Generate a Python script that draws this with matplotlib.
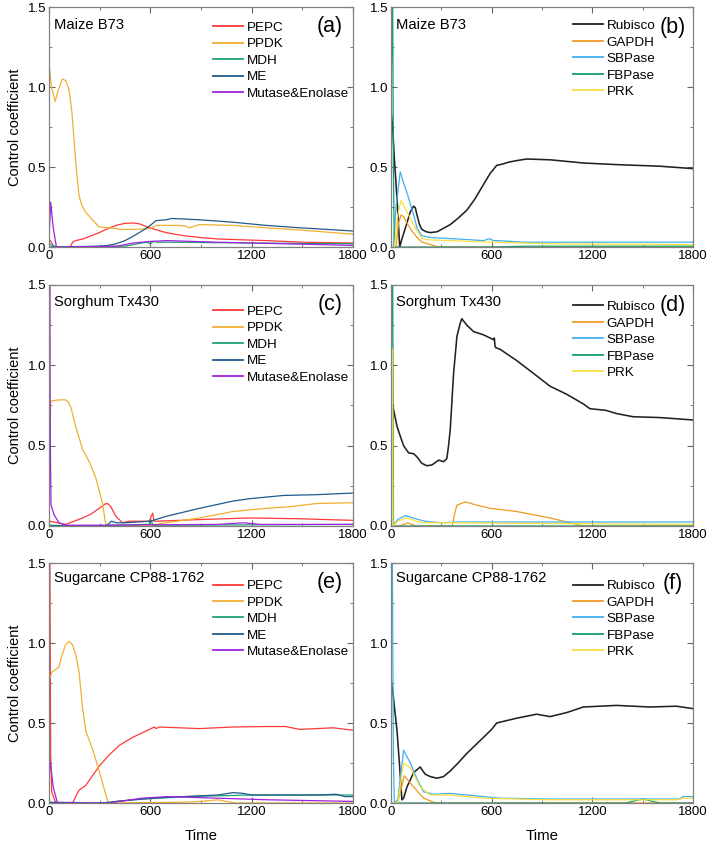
import numpy as np
import matplotlib.pyplot as plt
from matplotlib.ticker import MultipleLocator

plt.rcParams['font.family'] = ['Liberation Sans', 'DejaVu Sans']

# colours
C_PEPC = '#ff3838'
C_PPDK = '#f0b030'
C_MDH = '#1fa070'
C_ME = '#1f5a8a'
C_MUT = '#a020e0'
C_RUB = '#222222'
C_GAP = '#f09a20'
C_SBP = '#40b0f0'
C_FBP = '#10a070'
C_PRK = '#f8e040'

# ---- panel (a) Maize B73, C4 enzymes
a_t_pepc = [0, 8, 30, 125, 140, 158, 200, 250, 297, 350, 396, 450, 495, 535, 594, 693, 800, 891, 1000, 1287, 1500, 1800]
a_pepc = [0.05, 0.04, 0.0, 0.0, 0.03, 0.04, 0.05, 0.07, 0.09, 0.115, 0.135, 0.148, 0.15, 0.145, 0.12, 0.09, 0.07, 0.06, 0.05, 0.04, 0.03, 0.025]
a_t_ppdk = [0, 15, 36, 55, 79, 100, 119, 135, 150, 162, 178, 195, 215, 257, 297, 356, 396, 420, 495, 600, 634, 700, 772, 810, 832, 860, 891, 1089, 1287, 1500, 1800]
a_ppdk = [1.14, 1.0, 0.91, 0.98, 1.05, 1.04, 0.98, 0.85, 0.65, 0.48, 0.32, 0.26, 0.22, 0.17, 0.125, 0.12, 0.115, 0.11, 0.11, 0.115, 0.135, 0.135, 0.135, 0.13, 0.12, 0.13, 0.14, 0.135, 0.12, 0.105, 0.08]
a_t_mdh = [0, 20, 50, 450, 550, 580, 600, 620, 640, 700, 1200, 1800]
a_mdh = [0.02, 0.01, 0.0, 0.005, 0.025, 0.03, 0.02, 0.035, 0.03, 0.03, 0.025, 0.02]
a_t_me = [0, 300, 350, 396, 450, 495, 550, 594, 634, 693, 723, 800, 891, 1000, 1089, 1287, 1485, 1800]
a_me = [0.0, 0.005, 0.01, 0.02, 0.04, 0.065, 0.1, 0.13, 0.165, 0.17, 0.178, 0.175, 0.17, 0.162, 0.155, 0.135, 0.12, 0.10]
a_t_mut = [0, 10, 25, 44, 400, 500, 600, 700, 1000, 1400, 1800]
a_mut = [0.05, 0.28, 0.12, 0.0, 0.005, 0.025, 0.035, 0.04, 0.03, 0.02, 0.01]

# ---- panel (b) Maize B73, Calvin cycle enzymes
b_t_rub = [0, 10, 20, 36, 52, 65, 80, 95, 115, 135, 145, 155, 170, 184, 210, 234, 274, 310, 353, 400, 452, 500, 551, 591, 630, 670, 700, 749, 809, 948, 1146, 1344, 1600, 1800]
b_rub = [0.85, 0.75, 0.55, 0.3, 0.0, 0.05, 0.1, 0.15, 0.22, 0.255, 0.245, 0.2, 0.14, 0.11, 0.095, 0.09, 0.095, 0.115, 0.14, 0.18, 0.23, 0.3, 0.39, 0.46, 0.51, 0.52, 0.53, 0.54, 0.55, 0.545, 0.525, 0.515, 0.505, 0.49]
b_t_gap = [0, 30, 45, 60, 75, 95, 125, 155, 184, 220, 254, 280, 1800]
b_gap = [0, 0.0, 0.15, 0.2, 0.19, 0.15, 0.1, 0.06, 0.03, 0.02, 0.01, 0.0, 0.0]
b_t_sbp = [0, 15, 30, 55, 75, 95, 115, 135, 155, 184, 234, 300, 400, 551, 580, 591, 610, 630, 800, 948, 1200, 1800]
b_sbp = [0, 0.0, 0.25, 0.47, 0.4, 0.34, 0.27, 0.2, 0.12, 0.07, 0.06, 0.055, 0.05, 0.04, 0.05, 0.05, 0.04, 0.04, 0.03, 0.03, 0.03, 0.03]
b_t_fbp = [0, 5, 10, 14, 20, 600, 800, 1800]
b_fbp = [0.9, 1.3, 1.6, 0.5, 0.0, 0.0, 0.005, 0.005]
b_t_prk = [0, 20, 40, 60, 95, 125, 155, 184, 220, 353, 591, 948, 1800]
b_prk = [0, 0, 0.2, 0.29, 0.22, 0.16, 0.1, 0.055, 0.045, 0.04, 0.03, 0.02, 0.015]

# ---- panel (c) Sorghum Tx430, C4 enzymes
c_t_pepc = [0, 30, 99, 150, 198, 250, 297, 337, 350, 366, 396, 436, 475, 520, 594, 605, 614, 622, 640, 891, 1188, 1485, 1800]
c_pepc = [0.03, 0.025, 0.01, 0.03, 0.05, 0.075, 0.11, 0.14, 0.138, 0.12, 0.06, 0.02, 0.03, 0.03, 0.03, 0.06, 0.08, 0.03, 0.03, 0.04, 0.05, 0.045, 0.035]
c_t_ppdk = [0, 5, 10, 20, 60, 99, 115, 129, 158, 198, 238, 277, 317, 333, 341, 600, 693, 891, 1089, 1287, 1426, 1584, 1800]
c_ppdk = [0.0, 0.5, 0.77, 0.78, 0.785, 0.785, 0.77, 0.74, 0.62, 0.48, 0.4, 0.3, 0.14, 0.03, 0.0, 0.005, 0.02, 0.05, 0.09, 0.11, 0.12, 0.14, 0.145]
c_t_mdh = [0, 200, 590, 604, 615, 700, 1800]
c_mdh = [0.005, 0.0, 0.01, 0.04, 0.005, 0.005, 0.01]
c_t_me = [0, 340, 370, 400, 450, 600, 693, 891, 1089, 1188, 1386, 1584, 1800]
c_me = [0.0, 0.0, 0.03, 0.02, 0.02, 0.03, 0.06, 0.11, 0.155, 0.17, 0.19, 0.195, 0.205]
c_t_mut = [0, 4, 8, 12, 30, 59, 99, 300, 1000, 1150, 1250, 1800]
c_mut = [0.2, 1.6, 0.5, 0.13, 0.07, 0.02, 0.005, 0.005, 0.01, 0.02, 0.01, 0.01]

# ---- panel (d) Sorghum Tx430, Calvin cycle enzymes
d_t_rub = [0, 5, 16, 36, 55, 75, 105, 135, 155, 184, 214, 244, 284, 313, 333, 343, 353, 373, 393, 412, 422, 452, 492, 551, 611, 616, 620, 624, 650, 749, 849, 948, 1047, 1146, 1186, 1280, 1344, 1443, 1600, 1800]
d_rub = [0.8, 0.78, 0.72, 0.62, 0.56, 0.5, 0.455, 0.45, 0.43, 0.39, 0.375, 0.38, 0.41, 0.40, 0.42, 0.5, 0.6, 0.95, 1.18, 1.26, 1.29, 1.25, 1.21, 1.19, 1.16, 1.17, 1.12, 1.11, 1.10, 1.03, 0.95, 0.87, 0.82, 0.76, 0.73, 0.72, 0.70, 0.68, 0.675, 0.66]
d_t_gap = [0, 50, 100, 150, 200, 365, 380, 393, 442, 511, 591, 749, 948, 1146, 1800]
d_gap = [0, 0, 0.02, 0.0, 0.0, 0.0, 0.08, 0.13, 0.15, 0.13, 0.11, 0.09, 0.05, 0.0, 0.0]
d_t_sbp = [0, 10, 40, 85, 130, 200, 300, 400, 600, 1000, 1800]
d_sbp = [0, 0.0, 0.04, 0.065, 0.05, 0.03, 0.02, 0.025, 0.025, 0.025, 0.025]
d_t_fbp = [0, 5, 10, 15, 1800]
d_fbp = [0.5, 1.6, 1.6, 0.0, 0.0]
d_t_prk = [0, 8, 12, 40, 95, 150, 200, 400, 1000, 1800]
d_prk = [1.1, 1.1, 0.0, 0.03, 0.05, 0.03, 0.02, 0.02, 0.015, 0.01]

# ---- panel (e) Sugarcane CP88-1762, C4 enzymes
e_t_pepc = [0, 5, 10, 16, 40, 139, 178, 218, 257, 297, 356, 416, 495, 594, 624, 634, 653, 891, 1089, 1287, 1400, 1485, 1683, 1800]
e_pepc = [0.5, 1.6, 0.3, 0.07, 0.0, 0.0, 0.08, 0.11, 0.17, 0.23, 0.3, 0.36, 0.41, 0.46, 0.475, 0.465, 0.475, 0.465, 0.475, 0.478, 0.478, 0.46, 0.47, 0.455]
e_t_ppdk = [0, 20, 59, 79, 99, 119, 139, 160, 178, 198, 218, 257, 297, 337, 352, 800, 900, 1000, 1100, 1800]
e_ppdk = [0.77, 0.82, 0.85, 0.93, 0.99, 1.01, 0.99, 0.92, 0.82, 0.6, 0.45, 0.34, 0.2, 0.05, 0.0, 0.005, 0.01, 0.02, 0.0, 0.0]
e_t_mdh = [0, 300, 500, 800, 1200, 1800]
e_mdh = [0, 0.0, 0.02, 0.04, 0.05, 0.05]
e_t_me = [0, 350, 400, 600, 800, 1000, 1089, 1150, 1200, 1600, 1700, 1750, 1800]
e_me = [0.005, 0.0, 0.01, 0.03, 0.04, 0.05, 0.065, 0.06, 0.05, 0.05, 0.055, 0.04, 0.04]
e_t_mut = [0, 5, 25, 50, 350, 550, 700, 1000, 1300, 1800]
e_mut = [0.1, 0.28, 0.1, 0.0, 0.0, 0.03, 0.04, 0.03, 0.02, 0.01]

# ---- panel (f) Sugarcane CP88-1762, Calvin cycle enzymes
f_t_rub = [0, 10, 36, 50, 65, 75, 95, 135, 174, 190, 204, 234, 274, 313, 353, 400, 452, 551, 600, 630, 749, 868, 948, 1047, 1146, 1344, 1542, 1701, 1800]
f_rub = [0.78, 0.7, 0.45, 0.25, 0.02, 0.03, 0.1, 0.19, 0.225, 0.2, 0.18, 0.165, 0.155, 0.165, 0.2, 0.25, 0.31, 0.41, 0.46, 0.5, 0.53, 0.555, 0.54, 0.565, 0.6, 0.61, 0.6, 0.605, 0.59]
f_t_gap = [0, 40, 79, 135, 194, 254, 275, 1800]
f_gap = [0, 0, 0.17, 0.1, 0.03, 0.005, 0.0, 0.0]
f_t_sbp = [0, 4, 8, 14, 20, 40, 75, 115, 155, 194, 254, 353, 551, 650, 948, 1344, 1720, 1740, 1800]
f_sbp = [0.6, 1.6, 1.6, 0.3, 0.0, 0.02, 0.33, 0.25, 0.15, 0.07, 0.055, 0.06, 0.04, 0.03, 0.025, 0.025, 0.025, 0.04, 0.04]
f_t_fbp = [0, 1400, 1500, 1600, 1800]
f_fbp = [0, 0, 0.025, 0.0, 0.0]
f_t_prk = [0, 40, 75, 115, 174, 234, 353, 551, 948, 1700, 1750, 1800]
f_prk = [0, 0, 0.25, 0.22, 0.1, 0.05, 0.05, 0.03, 0.02, 0.02, 0.03, 0.03]

c4_names = ['PEPC', 'PPDK', 'MDH', 'ME', 'Mutase&Enolase']
c4_colors = [C_PEPC, C_PPDK, C_MDH, C_ME, C_MUT]
cc_names = ['Rubisco', 'GAPDH', 'SBPase', 'FBPase', 'PRK']
cc_colors = [C_RUB, C_GAP, C_SBP, C_FBP, C_PRK]


def draw_panel(ax, series, names, colors, title, tag, leg_xy, title_y, tag_xy):
    for (t, y), name, col in zip(series, names, colors):
        lw = 1.15 if name == 'Rubisco' else 0.9
        ax.plot(t, y, color=col, lw=lw, label=name)
    ax.set_xlim(0, 1800)
    ax.set_ylim(0, 1.5)
    ax.xaxis.set_major_locator(MultipleLocator(600))
    ax.xaxis.set_minor_locator(MultipleLocator(300))
    ax.yaxis.set_major_locator(MultipleLocator(0.5))
    ax.yaxis.set_minor_locator(MultipleLocator(0.25))
    ax.yaxis.set_major_formatter(plt.FuncFormatter(lambda v, p: '%.1f' % v))
    ax.tick_params(which='both', direction='in', top=True, right=True,
                   color='#666666', labelsize=9.5, pad=2)
    ax.tick_params(which='major', length=4)
    ax.tick_params(which='minor', length=2.5)
    for s in ax.spines.values():
        s.set_color('#808080')
        s.set_linewidth(0.9)
    ax.text(0.018, title_y, title, transform=ax.transAxes, fontsize=10.6,
            ha='left', va='center')
    ax.text(tag_xy[0], tag_xy[1], tag, transform=ax.transAxes, fontsize=15.5,
            ha='center', va='center')
    leg = ax.legend(loc='upper left', bbox_to_anchor=leg_xy, frameon=False,
                    fontsize=9.7, handlelength=2.2, handletextpad=0.3,
                    labelspacing=0.3, borderpad=0, borderaxespad=0)
    for h in leg.get_lines():
        h.set_linewidth(1.3)


fig = plt.figure(figsize=(7.09, 8.43), dpi=100)
W, H = 709, 843
lefts = [49, 391]
widths = [304, 302]
tops = [7, 285, 563]
bottoms = [247, 526, 803]

panels = [
    ([(a_t_pepc, a_pepc), (a_t_ppdk, a_ppdk), (a_t_mdh, a_mdh), (a_t_me, a_me), (a_t_mut, a_mut)],
     'Maize B73', '(a)', 0, 0, 0.94, 0.925),
    ([(b_t_rub, b_rub), (b_t_gap, b_gap), (b_t_sbp, b_sbp), (b_t_fbp, b_fbp), (b_t_prk, b_prk)],
     'Maize B73', '(b)', 0, 1, 0.947, 0.925),
    ([(c_t_pepc, c_pepc), (c_t_ppdk, c_ppdk), (c_t_mdh, c_mdh), (c_t_me, c_me), (c_t_mut, c_mut)],
     'Sorghum Tx430', '(c)', 1, 0, 0.915, 0.93),
    ([(d_t_rub, d_rub), (d_t_gap, d_gap), (d_t_sbp, d_sbp), (d_t_fbp, d_fbp), (d_t_prk, d_prk)],
     'Sorghum Tx430', '(d)', 1, 1, 0.935, 0.93),
    ([(e_t_pepc, e_pepc), (e_t_ppdk, e_ppdk), (e_t_mdh, e_mdh), (e_t_me, e_me), (e_t_mut, e_mut)],
     'Sugarcane CP88-1762', '(e)', 2, 0, 0.93, 0.9375),
    ([(f_t_rub, f_rub), (f_t_gap, f_gap), (f_t_sbp, f_sbp), (f_t_fbp, f_fbp), (f_t_prk, f_prk)],
     'Sugarcane CP88-1762', '(f)', 2, 1, 0.93, 0.9375),
]

for series, title, tag, r, c, leg_y, title_y in panels:
    ax = fig.add_axes([lefts[c] / W, 1 - bottoms[r] / H, widths[c] / W,
                       (bottoms[r] - tops[r]) / H])
    if c == 0:
        draw_panel(ax, series, c4_names, c4_colors, title, tag, (0.54, leg_y),
                   title_y, (0.924, 0.92))
        ax.set_ylabel('Control coefficient', fontsize=10.5, labelpad=4)
    else:
        draw_panel(ax, series, cc_names, cc_colors, title, tag, (0.603, leg_y),
                   title_y, (0.934, 0.915))
    if r == 2:
        ax.set_xlabel('Time', fontsize=10.8, labelpad=8)

fig.savefig('out.png', dpi=100)
